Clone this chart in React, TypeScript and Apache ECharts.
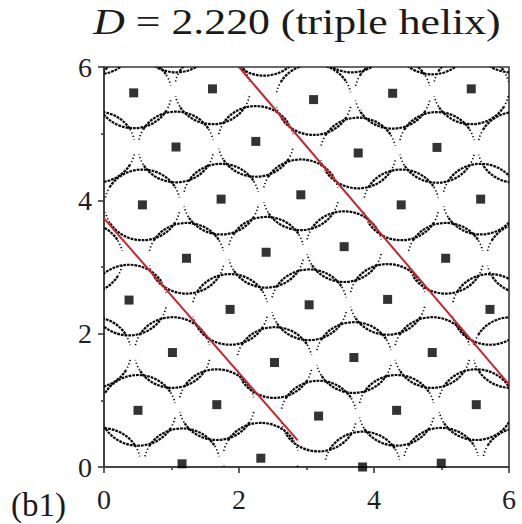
import React, { useEffect, useRef } from "react";
import * as echarts from "echarts";

// Cell centres (square markers), row by row from the top.
const cellX = [
  0.44, 1.607, 3.105, 4.276, 5.441,
  1.067, 2.249, 3.766, 4.933,
  0.569, 1.735, 2.916, 4.403, 5.58,
  1.222, 2.402, 3.558, 5.062,
  0.371, 1.868, 3.039, 4.202, 5.718,
  1.014, 2.526, 3.702, 4.863,
  0.504, 1.671, 3.179, 4.335, 5.515,
  1.156, 2.323, 3.831, 4.996,
];
const cellY = [
  5.612, 5.672, 5.511, 5.606, 5.672,
  4.8, 4.884, 4.71, 4.794,
  3.932, 4.018, 4.083, 3.932, 4.018,
  3.131, 3.221, 3.305, 3.131,
  2.504, 2.364, 2.433, 2.514, 2.364,
  1.717, 1.567, 1.642, 1.717,
  0.85, 0.935, 0.764, 0.85, 0.935,
  0.048, 0.132, 0.0, 0.057,
];

// Neighbouring cells just outside the window; only their outlines reach in.
const outerX = [-0.1, 1.07, 2.37, 3.67, 4.86, 6.03, -0.1, -0.28, -0.16, -0.02, 6.1, 6.23, 6.03, 6.17];
const outerY = [6.42, 6.45, 6.4, 6.45, 6.42, 6.45, 4.8, 3.131, 1.717, 0.05, 4.794, 3.131, 1.717, 0.057];

// Helix guide lines (start and end points).
const helix1X = [0, 2.87];
const helix1Y = [3.73, 0.4];
const helix2X = [2.0, 6.0];
const helix2Y = [6.0, 1.24];

const xTicks = [0, 2, 4, 6];
const yTicks = [0, 2, 4, 6];

// Cell outline semi-axes in data units; angles (from horizontal) where the
// outline starts, and where the sparse side dots turn into the dense rim.
const CELL_RX = 0.56;
const CELL_RY = 0.53;
const DEG = Math.PI / 180;
const SIDE_GAP = 12 * DEG;
const RIM_START = 30 * DEG;

const SERIF = "Liberation Serif, Times New Roman, serif";

export default function App() {
  const ref = useRef<HTMLDivElement>(null);

  useEffect(() => {
    if (!ref.current) return;
    const chart = echarts.init(ref.current, undefined, { renderer: "svg" });

    const centres = cellX.map((x, i) => [x, cellY[i]]);
    const outlines = centres.concat(outerX.map((x, i) => [x, outerY[i]]));

    const axisStyle = { color: "#3a3a3a", width: 1.6 };
    const labelStyle = { fontFamily: SERIF, fontSize: 28, color: "#1e1e1e" };

    const rimStyle = {
      stroke: "#0a0a0a",
      fill: "none",
      lineWidth: 2.2,
      lineDash: [2.6, 0.9],
      strokeNoScale: true,
    };
    const sideStyle = {
      stroke: "#000000",
      fill: "none",
      lineWidth: 1.6,
      lineDash: [1.2, 2.3],
      strokeNoScale: true,
    };

    chart.setOption({
      animation: false,
      backgroundColor: "#ffffff",
      grid: {
        left: 104,
        right: 13,
        top: 67,
        bottom: 57,
        show: true,
        borderColor: "#3a3a3a",
        borderWidth: 1.6,
        backgroundColor: "transparent",
      },
      xAxis: {
        type: "value",
        min: xTicks[0],
        max: xTicks[xTicks.length - 1],
        interval: 2,
        axisLine: { show: true, onZero: false, lineStyle: axisStyle },
        axisTick: { show: true, length: 6, lineStyle: axisStyle },
        minorTick: { show: true, splitNumber: 2, length: 3, lineStyle: axisStyle },
        splitLine: { show: false },
        axisLabel: { ...labelStyle, margin: 18 },
      },
      yAxis: {
        type: "value",
        min: yTicks[0],
        max: yTicks[yTicks.length - 1],
        interval: 2,
        axisLine: { show: true, onZero: false, lineStyle: axisStyle },
        axisTick: { show: true, length: 6, lineStyle: axisStyle },
        minorTick: { show: true, splitNumber: 2, length: 3, lineStyle: axisStyle },
        splitLine: { show: false },
        axisLabel: { ...labelStyle, margin: 12 },
      },
      graphic: [
        {
          type: "text",
          x: 297,
          y: 23,
          scaleX: 1.25,
          style: {
            text: "{i|D} = 2.220 (triple helix)",
            fontSize: 35,
            fontFamily: SERIF,
            fill: "#1a1a1a",
            textAlign: "center",
            textVerticalAlign: "middle",
            rich: {
              i: { fontStyle: "italic", fontSize: 35, fontFamily: SERIF, fill: "#1a1a1a" },
            },
          },
        },
        {
          type: "text",
          x: 11,
          y: 505,
          style: {
            text: "(b1)",
            fontSize: 33,
            fontFamily: SERIF,
            fill: "#1a1a1a",
            textAlign: "left",
            textVerticalAlign: "middle",
          },
        },
      ],
      series: [
        {
          type: "custom",
          clip: true,
          silent: true,
          data: outlines,
          renderItem: (_params: any, api: any) => {
            const c = api.coord([api.value(0), api.value(1)]);
            const s = api.size([CELL_RX, CELL_RY]);
            const rx = s[0];
            const ry = s[1];
            const arc = (start: number, end: number, style: any) => ({
              type: "arc",
              x: c[0],
              y: c[1],
              scaleX: rx / ry,
              shape: { cx: 0, cy: 0, r: ry, startAngle: start, endAngle: end, clockwise: true },
              style,
            });
            const P = Math.PI;
            return {
              type: "group",
              children: [
                // lower half: right side, rim, left side
                arc(SIDE_GAP, RIM_START, sideStyle),
                arc(RIM_START, P - RIM_START, rimStyle),
                arc(P - RIM_START, P - SIDE_GAP, sideStyle),
                // upper half: left side, rim, right side
                arc(P + SIDE_GAP, P + RIM_START, sideStyle),
                arc(P + RIM_START, 2 * P - RIM_START, rimStyle),
                arc(2 * P - RIM_START, 2 * P - SIDE_GAP, sideStyle),
              ],
            };
          },
          z: 2,
        },
        {
          type: "scatter",
          data: centres,
          symbol: "rect",
          symbolSize: 9,
          itemStyle: { color: "#000000" },
          silent: true,
          z: 4,
        },
        {
          type: "line",
          data: helix1X.map((x, i) => [x, helix1Y[i]]),
          symbol: "none",
          lineStyle: { color: "#c4262e", width: 2 },
          silent: true,
          z: 5,
        },
        {
          type: "line",
          data: helix2X.map((x, i) => [x, helix2Y[i]]),
          symbol: "none",
          lineStyle: { color: "#c4262e", width: 2 },
          silent: true,
          z: 5,
        },
      ],
    });

    return () => chart.dispose();
  }, []);

  return (
    <div
      ref={ref}
      style={{ position: "fixed", left: 0, top: 0, width: 522, height: 524, background: "#fff" }}
    />
  );
}
